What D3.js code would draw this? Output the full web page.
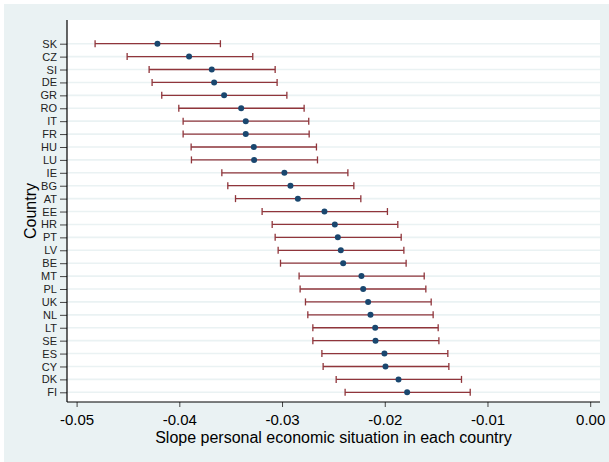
<!DOCTYPE html>
<html>
<head>
<meta charset="utf-8">
<script src="https://cdn.jsdelivr.net/npm/d3@7"></script>
<style>
  html, body { margin: 0; padding: 0; background: #ffffff; }
  svg { display: block; font-family: "Liberation Sans", Arial, sans-serif; }
</style>
</head>
<body>
<svg id="chart" width="609" height="462"></svg>
<script>
// Country-level slopes of personal economic situation with 95% confidence intervals
const countries = ["SK","CZ","SI","DE","GR","RO","IT","FR","HU","LU","IE","BG","AT","EE",
                   "HR","PT","LV","BE","MT","PL","UK","NL","LT","SE","ES","CY","DK","FI"];
const slope = [-0.04213,-0.03905,-0.03684,-0.03661,-0.03564,-0.03398,-0.03353,-0.03353,-0.03275,-0.03272,
               -0.02977,-0.02918,-0.02846,-0.02587,-0.02486,-0.02457,-0.02428,-0.02405,-0.02227,-0.02210,
               -0.02162,-0.02139,-0.02093,-0.02090,-0.02003,-0.01993,-0.01866,-0.01782];
const ciLow = [-0.04820,-0.04508,-0.04294,-0.04265,-0.04171,-0.04005,-0.03963,-0.03963,-0.03885,-0.03882,
               -0.03586,-0.03528,-0.03453,-0.03194,-0.03096,-0.03067,-0.03038,-0.03015,-0.02834,-0.02824,
               -0.02772,-0.02749,-0.02700,-0.02700,-0.02612,-0.02600,-0.02473,-0.02386];
const ciHigh = [-0.03600,-0.03285,-0.03067,-0.03048,-0.02953,-0.02785,-0.02740,-0.02736,-0.02665,-0.02655,
                -0.02359,-0.02301,-0.02233,-0.01974,-0.01873,-0.01840,-0.01814,-0.01792,-0.01616,-0.01600,
                -0.01548,-0.01529,-0.01480,-0.01473,-0.01386,-0.01376,-0.01253,-0.01168];
const xTicks = [-0.05, -0.04, -0.03, -0.02, -0.01, 0.00];
const xTitle = "Slope personal economic situation in each country";
const yTitle = "Country";

const rows = countries.map((c, i) => ({ country: c, slope: slope[i], lo: ciLow[i], hi: ciHigh[i] }));

const svg = d3.select("#chart");
const plot = { left: 67, right: 600, top: 20, bottom: 402 };

// graph region and plot region backgrounds
svg.append("rect").attr("x", 4).attr("y", 4).attr("width", 605).attr("height", 458).attr("fill", "#eaf2f3");
svg.append("rect").attr("x", plot.left).attr("y", plot.top)
   .attr("width", plot.right - plot.left).attr("height", plot.bottom - plot.top).attr("fill", "#ffffff");

const x = d3.scaleLinear().domain([-0.05, 0]).range([76.6, 590.2]);
const y = d3.scalePoint().domain(countries).range([43.7, 392.3]);

// horizontal grid lines at each country
svg.append("g").selectAll("line").data(countries).join("line")
   .attr("x1", plot.left).attr("x2", plot.right)
   .attr("y1", d => y(d)).attr("y2", d => y(d))
   .attr("stroke", "#eaf2f3").attr("stroke-width", 1.6);

// x axis
const xAxis = d3.axisBottom(x).tickValues(xTicks).tickFormat(d3.format(".2f")).tickSize(5).tickSizeOuter(0).tickPadding(7);
const gx = svg.append("g").attr("transform", `translate(0,${plot.bottom})`).call(xAxis);
gx.select(".domain").remove();
gx.selectAll(".tick line").attr("stroke", "#444").attr("stroke-width", 1);
gx.selectAll(".tick text").attr("fill", "#000").attr("font-size", 15)
  .text(d => d3.format(".2f")(d).replace("−", "-"));
svg.append("line").attr("x1", plot.left).attr("x2", plot.right)
   .attr("y1", plot.bottom).attr("y2", plot.bottom).attr("stroke", "#000").attr("stroke-width", 1.2);

// y axis
const yAxis = d3.axisLeft(y).tickSize(7).tickSizeOuter(0).tickPadding(3);
const gy = svg.append("g").attr("transform", `translate(${plot.left},0)`).call(yAxis);
gy.select(".domain").remove();
gy.selectAll(".tick line").attr("stroke", "#444").attr("stroke-width", 1);
gy.selectAll(".tick text").attr("fill", "#222").attr("font-size", 11);
svg.append("line").attr("x1", plot.left).attr("x2", plot.left)
   .attr("y1", plot.top).attr("y2", plot.bottom).attr("stroke", "#000").attr("stroke-width", 1.2);

// confidence intervals
const ci = svg.append("g").attr("stroke", "#90353b").attr("stroke-width", 1.3).attr("fill", "none");
ci.selectAll("line.span").data(rows).join("line").attr("class", "span")
  .attr("x1", d => x(d.lo)).attr("x2", d => x(d.hi))
  .attr("y1", d => y(d.country)).attr("y2", d => y(d.country));
ci.selectAll("line.capl").data(rows).join("line").attr("class", "capl")
  .attr("x1", d => x(d.lo)).attr("x2", d => x(d.lo))
  .attr("y1", d => y(d.country) - 3.5).attr("y2", d => y(d.country) + 3.5);
ci.selectAll("line.caph").data(rows).join("line").attr("class", "caph")
  .attr("x1", d => x(d.hi)).attr("x2", d => x(d.hi))
  .attr("y1", d => y(d.country) - 3.5).attr("y2", d => y(d.country) + 3.5);

// point estimates
svg.append("g").selectAll("circle").data(rows).join("circle")
   .attr("cx", d => x(d.slope)).attr("cy", d => y(d.country)).attr("r", 3)
   .attr("fill", "#1a476f");

// axis titles
svg.append("text").attr("x", (plot.left + plot.right) / 2).attr("y", 443)
   .attr("text-anchor", "middle").attr("font-size", 16).attr("fill", "#000").text(xTitle);
svg.append("text").attr("transform", `translate(36,${(plot.top + plot.bottom) / 2}) rotate(-90)`)
   .attr("text-anchor", "middle").attr("font-size", 16).attr("fill", "#000").text(yTitle);
</script>
</body>
</html>
